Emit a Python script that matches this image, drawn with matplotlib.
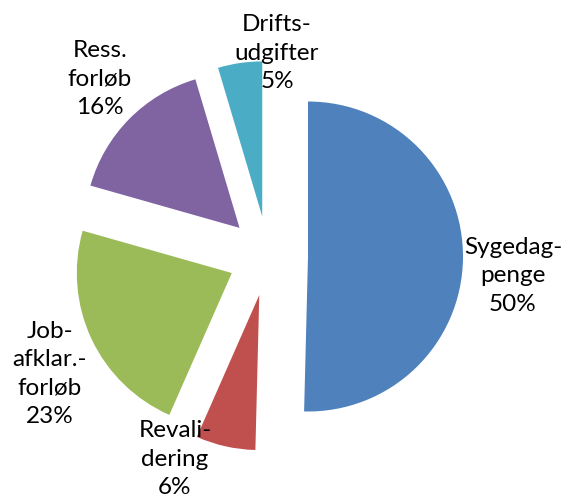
import matplotlib
matplotlib.use("Agg")
import matplotlib.pyplot as plt

categories = ["Sygedag-\npenge", "Revali-\ndering", "Job-\nafklar.-\nforløb", "Ress.\nforløb", "Drifts-\nudgifter"]
values = [50.4, 6.2, 22.8, 16.0, 4.6]
colors = ["#4F81BD", "#C0504D", "#9BBB59", "#8064A2", "#4BACC6"]

W, H = 561, 501
fig = plt.figure(figsize=(W / 100, H / 100), dpi=100)
ax = fig.add_axes([0, 0, 1, 1])

radius = 155
center = (268, H - 256)
explode = [40] * len(values)

ax.pie(values, colors=colors, startangle=90, counterclock=False,
       radius=radius, center=center, explode=explode,
       wedgeprops=dict(linewidth=0))

ax.set_xlim(0, W)
ax.set_ylim(0, H)
ax.set_aspect("equal")
ax.axis("off")

label_pos = [(513, 276), (175, 459), (50, 374), (100, 79), (277, 53)]
total = sum(values)
for cat, v, (lx, ly) in zip(categories, values, label_pos):
    ax.text(lx, H - ly, f"{cat}\n{v / total * 100:.0f}%", ha="center", va="center",
            multialignment="center", fontsize=17.5, family=["Lato", "DejaVu Sans"],
            linespacing=1.45, color="black")

fig.savefig("out.png", dpi=100)
